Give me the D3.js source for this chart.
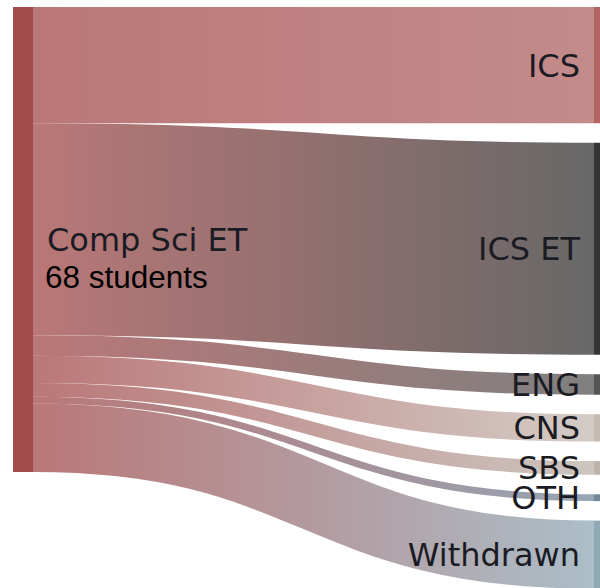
<!DOCTYPE html>
<html>
<head>
<meta charset="utf-8">
<script src="https://cdn.jsdelivr.net/npm/d3@7"></script>
<style>
  html, body { margin: 0; padding: 0; background: #fff; overflow: hidden; }
  svg { display: block; }
</style>
</head>
<body>
<svg id="chart" width="620" height="600"></svg>
<script>
// ---- data ----
const sourceName = "Comp Sci ET";
const sourceSubLabel = "68 students";
const sourceColor = "#a34a4a";
const targetNames = ["ICS", "ICS ET", "ENG", "CNS", "SBS", "OTH", "Withdrawn"];
const studentCounts = [17, 31, 3, 4, 2, 1, 10];
const targetColors = ["#b06464", "#353535", "#555555", "#c5bbb3", "#bcb3ab", "#73879b", "#90a8b5"];

// ---- layout constants ----
const extentTop = 7, extentBottom = 589;
const leftX = 13, rightX = 594, nodeWidth = 20, nodePadding = 19.5;
const linkOpacity = 0.75;

const svg = d3.select("#chart");
const total = d3.sum(studentCounts);
const ky = (extentBottom - extentTop - nodePadding * (targetNames.length - 1)) / total;
const y = d3.scaleLinear().domain([0, total]).range([0, total * ky]);
const x = d3.scaleLinear().domain([0, 1]).range([leftX, rightX]);

// nodes
const sourceNode = { name: sourceName, x0: x(0), x1: x(0) + nodeWidth, y0: extentTop, y1: extentTop + y(total), color: sourceColor };
let cursor = extentTop;
const targetNodes = targetNames.map((n, i) => {
  const node = { name: n, x0: x(1), x1: x(1) + nodeWidth, y0: cursor, y1: cursor + y(studentCounts[i]), color: targetColors[i] };
  cursor = node.y1 + nodePadding;
  return node;
});

// links
let sy = sourceNode.y0;
const links = targetNodes.map((t, i) => {
  const w = y(studentCounts[i]);
  const l = { i, source: sourceNode, target: t, width: w, ys: sy + w / 2, yt: t.y0 + w / 2 };
  sy += w;
  return l;
});

const defs = svg.append("defs");
links.forEach(l => {
  const g = defs.append("linearGradient")
    .attr("id", "grad" + l.i)
    .attr("gradientUnits", "userSpaceOnUse")
    .attr("x1", l.source.x1).attr("x2", l.target.x0)
    .attr("y1", 0).attr("y2", 0);
  g.append("stop").attr("offset", "0%").attr("stop-color", l.source.color);
  g.append("stop").attr("offset", "100%").attr("stop-color", l.target.color);
});

const linkGen = d3.linkHorizontal()
  .source(d => [d.source.x1, d.ys])
  .target(d => [d.target.x0, d.yt]);

svg.append("g")
  .attr("fill", "none")
  .selectAll("path")
  .data(links)
  .join("path")
  .attr("d", linkGen)
  .attr("stroke", d => `url(#grad${d.i})`)
  .attr("stroke-opacity", linkOpacity)
  .attr("stroke-width", d => Math.max(1, d.width));

// nodes
const allNodes = [sourceNode, ...targetNodes];
svg.append("g")
  .selectAll("rect")
  .data(allNodes)
  .join("rect")
  .attr("x", d => d.x0)
  .attr("y", d => d.y0)
  .attr("width", d => d.x1 - d.x0)
  .attr("height", d => d.y1 - d.y0)
  .attr("fill", d => d.color);

// labels
const labelFont = "'DejaVu Sans', Verdana, sans-serif";
svg.append("g")
  .selectAll("text")
  .data(targetNodes)
  .join("text")
  .attr("x", d => d.x0 - 14)
  .attr("y", d => (d.y0 + d.y1) / 2)
  .attr("dy", "0.36em")
  .attr("text-anchor", "end")
  .attr("font-family", labelFont)
  .attr("font-size", 32)
  .attr("fill", "#1b1b24")
  .text(d => d.name);

const cy = (sourceNode.y0 + sourceNode.y1) / 2;
svg.append("text")
  .attr("x", sourceNode.x1 + 14)
  .attr("y", cy)
  .attr("dy", "0.36em")
  .attr("font-family", labelFont)
  .attr("font-size", 32)
  .attr("fill", "#1b1b24")
  .text(sourceName);

svg.append("text")
  .attr("x", sourceNode.x1 + 12)
  .attr("y", cy + 48)
  .attr("font-family", "'Liberation Sans', Arial, sans-serif")
  .attr("font-size", 31.5)
  .attr("fill", "#000")
  .text(sourceSubLabel);
</script>
</body>
</html>
